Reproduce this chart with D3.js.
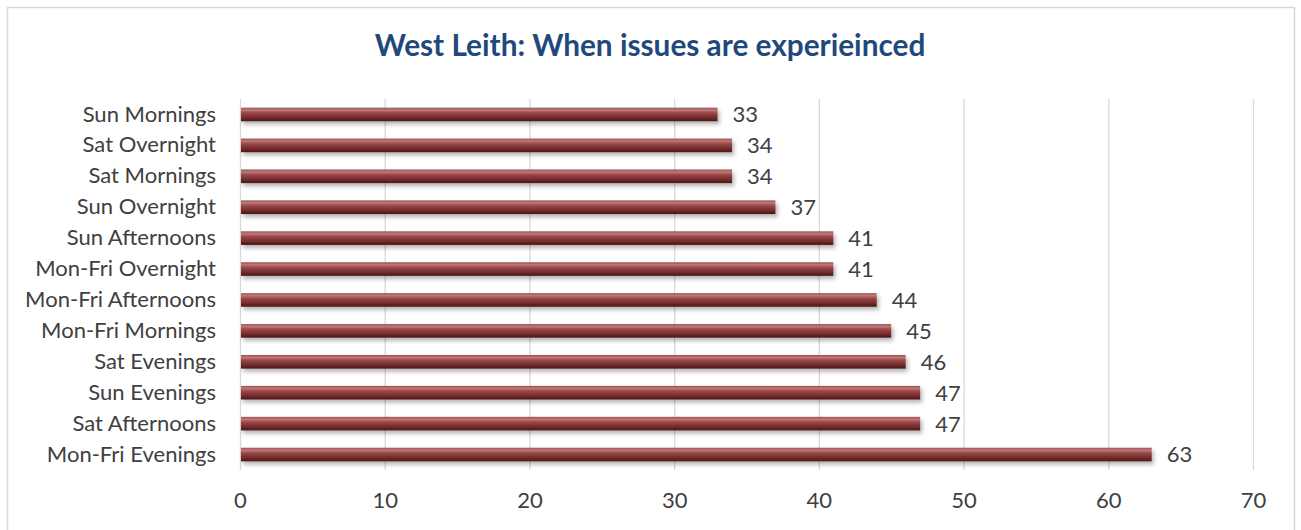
<!DOCTYPE html>
<html><head><meta charset="utf-8">
<script src="https://cdn.jsdelivr.net/npm/d3@7"></script>
<style>
html,body{margin:0;padding:0;background:#fff;}
svg{display:block;}
</style></head>
<body>
<svg id="chart" width="1301" height="530"></svg>
<script>
const categories = ["Sun Mornings","Sat Overnight","Sat Mornings","Sun Overnight","Sun Afternoons","Mon-Fri Overnight","Mon-Fri Afternoons","Mon-Fri Mornings","Sat Evenings","Sun Evenings","Sat Afternoons","Mon-Fri Evenings"];
const values = [33,34,34,37,41,41,44,45,46,47,47,63];
const xTicks = [0,10,20,30,40,50,60,70];
const title = "West Leith: When issues are experieinced";

(function(){
const svg = d3.select("#chart");
const FONT = "Lato, 'Open Sans', 'Liberation Sans', sans-serif";

function fitSize(text, weight, target){
  const t = svg.append("text").attr("font-family",FONT).attr("font-weight",weight).attr("font-size",100).text(text);
  const w = t.node().getComputedTextLength();
  t.remove();
  return 100*target/w;
}
const labelSize = fitSize("Mon-Fri Afternoons","normal",191);
const titleSize = fitSize(title,"bold",551);

svg.append("rect").attr("x",7.5).attr("y",7.5).attr("width",1287).attr("height",540)
  .attr("fill","#fff").attr("stroke","#d9d9d9").attr("stroke-width",1.5);

const pL = 240, pR = 1253, pT = 99, pB = 470;
const x = d3.scaleLinear().domain([0,70]).range([pL,pR]);
const y = d3.scaleBand().domain(categories).range([pT,pB]).paddingInner(0.56).paddingOuter(0.28);

const defs = svg.append("defs");
const grad = defs.append("linearGradient").attr("id","barGrad").attr("x1",0).attr("y1",0).attr("x2",0).attr("y2",1);
[[0,"#9a5050"],[0.18,"#c07878"],[0.4,"#974646"],[0.75,"#732a2a"],[1,"#4a1616"]].forEach(s=>
  grad.append("stop").attr("offset",s[0]).attr("stop-color",s[1]));
const filt = defs.append("filter").attr("id","shadow").attr("x","-5%").attr("y","-50%").attr("width","110%").attr("height","250%");
filt.append("feDropShadow").attr("dx",2).attr("dy",3).attr("stdDeviation",2).attr("flood-color","#000").attr("flood-opacity",0.3);

svg.append("g").selectAll("line").data(xTicks.slice(1)).join("line")
  .attr("x1",d=>x(d)+0.5).attr("x2",d=>x(d)+0.5).attr("y1",pT).attr("y2",pB)
  .attr("stroke","#d9d9d9").attr("stroke-width",1.3);
svg.append("line").attr("x1",pL+0.5).attr("x2",pL+0.5).attr("y1",pT).attr("y2",pB)
  .attr("stroke","#d9d9d9").attr("stroke-width",1.3);

svg.append("g").selectAll("rect").data(values).join("rect")
  .attr("x",x(0)+1).attr("y",(d,i)=>y(categories[i]))
  .attr("width",d=>x(d)-x(0)-1).attr("height",y.bandwidth())
  .attr("fill","url(#barGrad)").attr("filter","url(#shadow)");

svg.append("g").selectAll("text").data(values).join("text")
  .attr("x",d=>x(d)+15).attr("y",(d,i)=>y(categories[i])+y.bandwidth()/2)
  .attr("dy","0.36em").attr("font-family",FONT).attr("font-size",labelSize).attr("fill","#404040")
  .text(d=>d);

const yAxis = d3.axisLeft(y).tickSize(0).tickPadding(24);
const gy = svg.append("g").attr("transform",`translate(${pL},0)`).call(yAxis);
gy.select(".domain").remove();
gy.selectAll("text").attr("font-family",FONT).attr("font-size",labelSize).attr("fill","#404040");

const xAxis = d3.axisBottom(x).tickValues(xTicks).tickSize(0).tickPadding(22);
const gx = svg.append("g").attr("transform",`translate(0,${pB})`).call(xAxis);
gx.select(".domain").remove();
gx.selectAll("text").attr("font-family",FONT).attr("font-size",labelSize).attr("fill","#404040");

svg.append("text").attr("x",650).attr("y",56).attr("text-anchor","middle")
  .attr("font-family",FONT).attr("font-weight","bold").attr("font-size",titleSize).attr("fill","#1f497d")
  .text(title);
})();
</script>
</body></html>
